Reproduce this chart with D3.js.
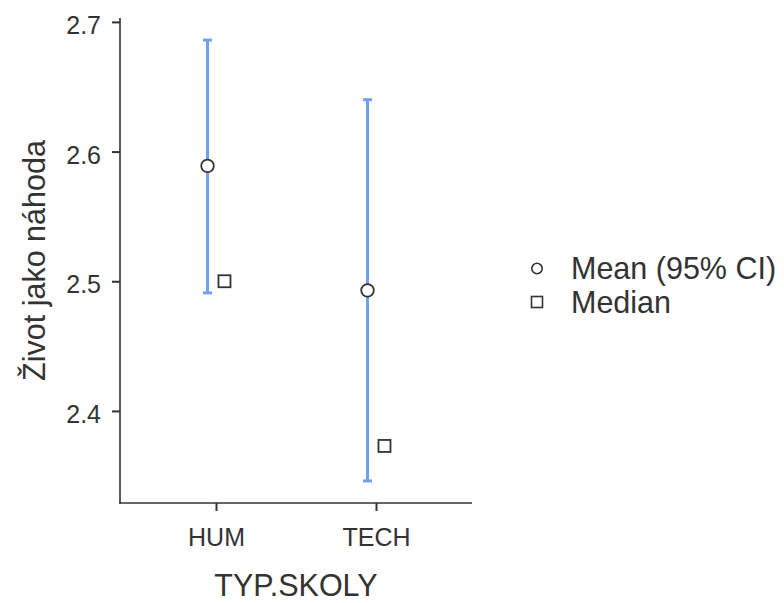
<!DOCTYPE html>
<html>
<head>
<meta charset="utf-8">
<script src="https://cdn.jsdelivr.net/npm/d3@7"></script>
<style>
  html, body { margin: 0; padding: 0; background: #ffffff; }
  svg { display: block; }
  text { font-family: "Liberation Sans", Arial, sans-serif; }
</style>
</head>
<body>
<svg id="chart" width="784" height="603"></svg>
<script>
// ---- data ----
const categories = ["HUM", "TECH"];
const meanValues = [2.589, 2.493];
const ciLower = [2.491, 2.346];
const ciUpper = [2.686, 2.640];
const medianValues = [2.500, 2.373];
const yTicks = [2.4, 2.5, 2.6, 2.7];
const xTitle = "TYP.SKOLY";
const yTitle = "Život jako náhoda";
const legendLabels = ["Mean (95% CI)", "Median"];

// ---- layout ----
const panel = { left: 120, right: 472, top: 18, bottom: 503 };
const axisColor = "#333333";
const textColor = "#333333";
const barColor = "#71A0EC";
const titleSize = 30.5, tickSize = 25;

const svg = d3.select("#chart");

const x = d3.scalePoint()
  .domain(categories)
  .range([panel.left, panel.right])
  .padding(0.6);

const allVals = ciLower.concat(ciUpper, meanValues, medianValues);
const lo = d3.min(allVals), hi = d3.max(allVals);
const pad = (hi - lo) * 0.05;
const y = d3.scaleLinear()
  .domain([lo - pad, hi + pad])
  .range([panel.bottom, panel.top]);

const dodge = x.step() * 0.053;

const rows = categories.map((c, i) => ({
  cat: c, mean: meanValues[i], lo: ciLower[i], hi: ciUpper[i], med: medianValues[i]
}));

// ---- error bars ----
const eb = svg.append("g");
rows.forEach(d => {
  const cx = x(d.cat) - dodge;
  eb.append("line")
    .attr("x1", cx).attr("x2", cx)
    .attr("y1", y(d.lo)).attr("y2", y(d.hi))
    .attr("stroke", barColor).attr("stroke-width", 3);
  [d.lo, d.hi].forEach(v => {
    eb.append("line")
      .attr("x1", cx - 4.5).attr("x2", cx + 4.5)
      .attr("y1", y(v)).attr("y2", y(v))
      .attr("stroke", barColor).attr("stroke-width", 3);
  });
});

// ---- mean points ----
svg.append("g").selectAll("circle")
  .data(rows).join("circle")
  .attr("cx", d => x(d.cat) - dodge)
  .attr("cy", d => y(d.mean))
  .attr("r", 6.3)
  .attr("fill", "#ffffff")
  .attr("stroke", axisColor)
  .attr("stroke-width", 1.8);

// ---- median squares ----
const sq = 12;
svg.append("g").selectAll("rect")
  .data(rows).join("rect")
  .attr("x", d => x(d.cat) + dodge - sq / 2)
  .attr("y", d => y(d.med) - sq / 2)
  .attr("width", sq).attr("height", sq)
  .attr("fill", "#ffffff")
  .attr("stroke", axisColor)
  .attr("stroke-width", 1.8);

// ---- axes ----
const yAxis = d3.axisLeft(y).tickValues(yTicks).tickFormat(d3.format(".1f")).tickSize(8).tickPadding(11);
const gy = svg.append("g").attr("transform", `translate(${panel.left},0)`).call(yAxis);
gy.select(".domain").remove();
gy.append("line")
  .attr("x1", 0).attr("x2", 0)
  .attr("y1", panel.top).attr("y2", panel.bottom + 0.8)
  .attr("stroke", axisColor).attr("stroke-width", 1.6);
gy.selectAll(".tick line").attr("stroke", axisColor).attr("stroke-width", 2);
gy.selectAll(".tick text")
  .attr("fill", textColor)
  .attr("font-size", tickSize)
  .attr("font-family", "Liberation Sans, Arial, sans-serif")
  .attr("dy", "0.46em");

const xAxis = d3.axisBottom(x).tickSize(8).tickPadding(6);
const gx = svg.append("g").attr("transform", `translate(0,${panel.bottom})`).call(xAxis);
gx.select(".domain").remove();
gx.append("line")
  .attr("x1", panel.left - 0.8).attr("x2", panel.right)
  .attr("y1", 0).attr("y2", 0)
  .attr("stroke", axisColor).attr("stroke-width", 1.6);
gx.selectAll(".tick line").attr("stroke", axisColor).attr("stroke-width", 2);
gx.selectAll(".tick text")
  .attr("fill", textColor)
  .attr("font-size", tickSize)
  .attr("font-family", "Liberation Sans, Arial, sans-serif")
  .attr("dy", "29px");

// ---- axis titles ----
svg.append("text")
  .attr("x", (panel.left + panel.right) / 2)
  .attr("y", 596)
  .attr("text-anchor", "middle")
  .attr("fill", textColor)
  .attr("font-size", titleSize)
  .text(xTitle);

svg.append("text")
  .attr("transform", `translate(45,${(panel.top + panel.bottom) / 2}) rotate(-90)`)
  .attr("text-anchor", "middle")
  .attr("fill", textColor)
  .attr("font-size", titleSize)
  .text(yTitle);

// ---- legend ----
const lg = svg.append("g");
const lgX = 537, lgY0 = 268.5, lgStep = 33.5;
lg.append("circle")
  .attr("cx", lgX).attr("cy", lgY0).attr("r", 5.2)
  .attr("fill", "#ffffff").attr("stroke", axisColor).attr("stroke-width", 1.6);
lg.append("rect")
  .attr("x", lgX - 5.5).attr("y", lgY0 + lgStep - 5.5)
  .attr("width", 11).attr("height", 11)
  .attr("fill", "#ffffff").attr("stroke", axisColor).attr("stroke-width", 1.6);
legendLabels.forEach((t, i) => {
  lg.append("text")
    .attr("x", 571)
    .attr("y", lgY0 + i * lgStep + 10.8)
    .attr("fill", textColor)
    .attr("font-size", titleSize)
    .text(t);
});
</script>
</body>
</html>
